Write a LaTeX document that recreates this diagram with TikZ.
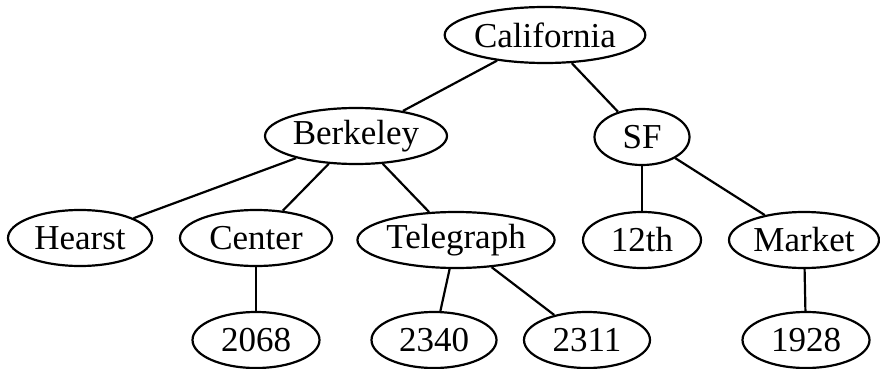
\documentclass[tikz,border=0pt]{standalone}
\usepackage{fontspec}
\setmainfont{Liberation Serif}
\usetikzlibrary{shapes.geometric}
\begin{document}
\begin{tikzpicture}[x=1pt,y=-1pt,
  tn/.style={ellipse,draw,line width=2.2pt,inner sep=0pt,minimum height=56pt,
             font=\fontsize{35}{40}\selectfont},
  edge/.style={line width=2.2pt}]
\useasboundingbox (0,0) rectangle (880,369);
\node[tn,minimum width=200pt] (cal) at (545,35) {California};
\node[tn,minimum width=182pt] (ber) at (356,136) {Berkeley};
\node[tn,minimum width=95pt]  (sf)  at (642,137) {SF};
\node[tn,minimum width=144pt] (hea) at (80,238) {Hearst};
\node[tn,minimum width=152pt] (cen) at (256,238) {Center};
\node[tn,minimum width=197pt] (tel) at (456,240) {Telegraph};
\node[tn,minimum width=118pt] (twe) at (642,240) {12th};
\node[tn,minimum width=150pt] (mar) at (804,240) {Market};
\node[tn,minimum width=127pt] (n2068) at (256,340) {2068};
\node[tn,minimum width=125pt] (n2340) at (434,340) {2340};
\node[tn,minimum width=126pt] (n2311) at (587,340) {2311};
\node[tn,minimum width=127pt] (n1928) at (806,340) {1928};
\draw[edge] (cal) -- (ber);
\draw[edge] (cal) -- (sf);
\draw[edge] (ber) -- (hea);
\draw[edge] (ber) -- (cen);
\draw[edge] (ber) -- (tel);
\draw[edge] (sf) -- (twe);
\draw[edge] (sf) -- (mar);
\draw[edge] (cen) -- (n2068);
\draw[edge] (tel) -- (n2340);
\draw[edge] (tel) -- (n2311);
\draw[edge] (mar) -- (n1928);
\end{tikzpicture}
\end{document}
